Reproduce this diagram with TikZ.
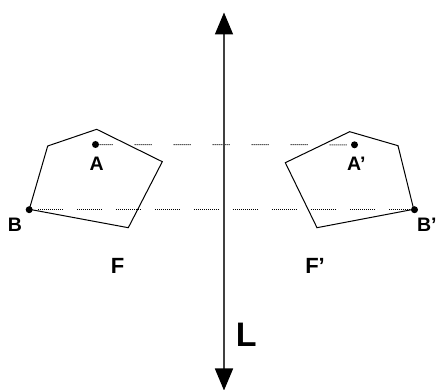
\documentclass[tikz,border=0pt]{standalone}
\usepackage{fontspec}
\setmainfont{Liberation Sans}
\usetikzlibrary{arrows.meta}
\begin{document}
\begin{tikzpicture}[x=1pt,y=-1pt,
  fig/.style={draw=black,line width=1pt,line join=miter},
  pt/.style={circle,fill=black,inner sep=0pt,minimum size=7pt},
  lab/.style={anchor=base west,inner sep=0pt,font=\bfseries\fontsize{19.5}{20}\selectfont},
  biglab/.style={anchor=base west,inner sep=0pt,font=\bfseries\fontsize{22}{24}\selectfont},
  axislab/.style={anchor=base west,inner sep=0pt,font=\bfseries\fontsize{34}{36}\selectfont},
  adots/.style={draw=black,line width=1pt,dash pattern=on 1.2pt off 0.8pt on 1.2pt off 0.8pt on 1.2pt off 0.8pt on 1.2pt off 0.8pt on 1.2pt off 0.8pt on 1.2pt off 0.8pt on 1.2pt off 0.8pt on 1.2pt off 0.8pt on 1.2pt off 21.8pt},
  bdots/.style={draw=black,line width=1pt,dash pattern=on 1.2pt off 0.8pt on 1.2pt off 0.8pt on 1.2pt off 0.8pt on 1.2pt off 0.8pt on 1.2pt off 0.8pt on 1.2pt off 0.8pt on 1.2pt off 0.8pt on 1.2pt off 0.8pt on 1.2pt off 0.8pt on 1.2pt off 0.8pt on 1.2pt off 0.8pt on 1.2pt off 0.8pt on 1.2pt off 13.8pt,dash phase=30pt},
  axisline/.style={draw=black!75,line width=1.7pt},
  tip/.tip={Triangle[width=18pt,length=22pt,color=black]}
]
\useasboundingbox (0,0) rectangle (437,390);

% left figure F
\coordinate (p1) at (96.7,129.3);
\coordinate (p2) at (47.7,146);
\coordinate (p3) at (29.3,209.3);
\coordinate (p4) at (128.3,227.7);
\coordinate (p5) at (162.3,161.7);
% right figure F'
\coordinate (q1) at (349.7,131.7);
\coordinate (q2) at (398,145.7);
\coordinate (q3) at (413.7,209.3);
\coordinate (q4) at (317,227.7);
\coordinate (q5) at (285.3,162.7);

% points
\node[pt] (A)  at (95.5,144.5) {};
\node[pt] (B)  at (29.2,209.7) {};
\node[pt] (Ap) at (354.5,144.8) {};
\node[pt] (Bp) at (414.5,209.7) {};

% dotted correspondence lines
\draw[adots] (A.center) -- (Ap.center);
\draw[bdots] (B.center) -- (Bp.center);

% polygons
\draw[fig] (p1) -- (p2) -- (p3) -- (p4) -- (p5) -- cycle;
\draw[fig] (q1) -- (q2) -- (q3) -- (q4) -- (q5) -- cycle;

% axis L
\coordinate (Ltop) at (224,12.5);
\coordinate (Lbot) at (224,390.5);
\draw[axisline,tip-tip] (Lbot) -- (Ltop);

% labels
\node[lab] (lA)  at (89.3,171) {A};
\node[lab] (lAp) at (347,171) {A'};
\node[lab] (lB)  at (7.6,231.7) {B};
\node[lab] (lBp) at (416.8,231.7) {B'};
\node[biglab] (lF)  at (110.7,274) {F};
\node[biglab] (lFp) at (305.1,274) {F'};
\node[axislab] (lL) at (235.7,346.7) {L};
\end{tikzpicture}
\end{document}
